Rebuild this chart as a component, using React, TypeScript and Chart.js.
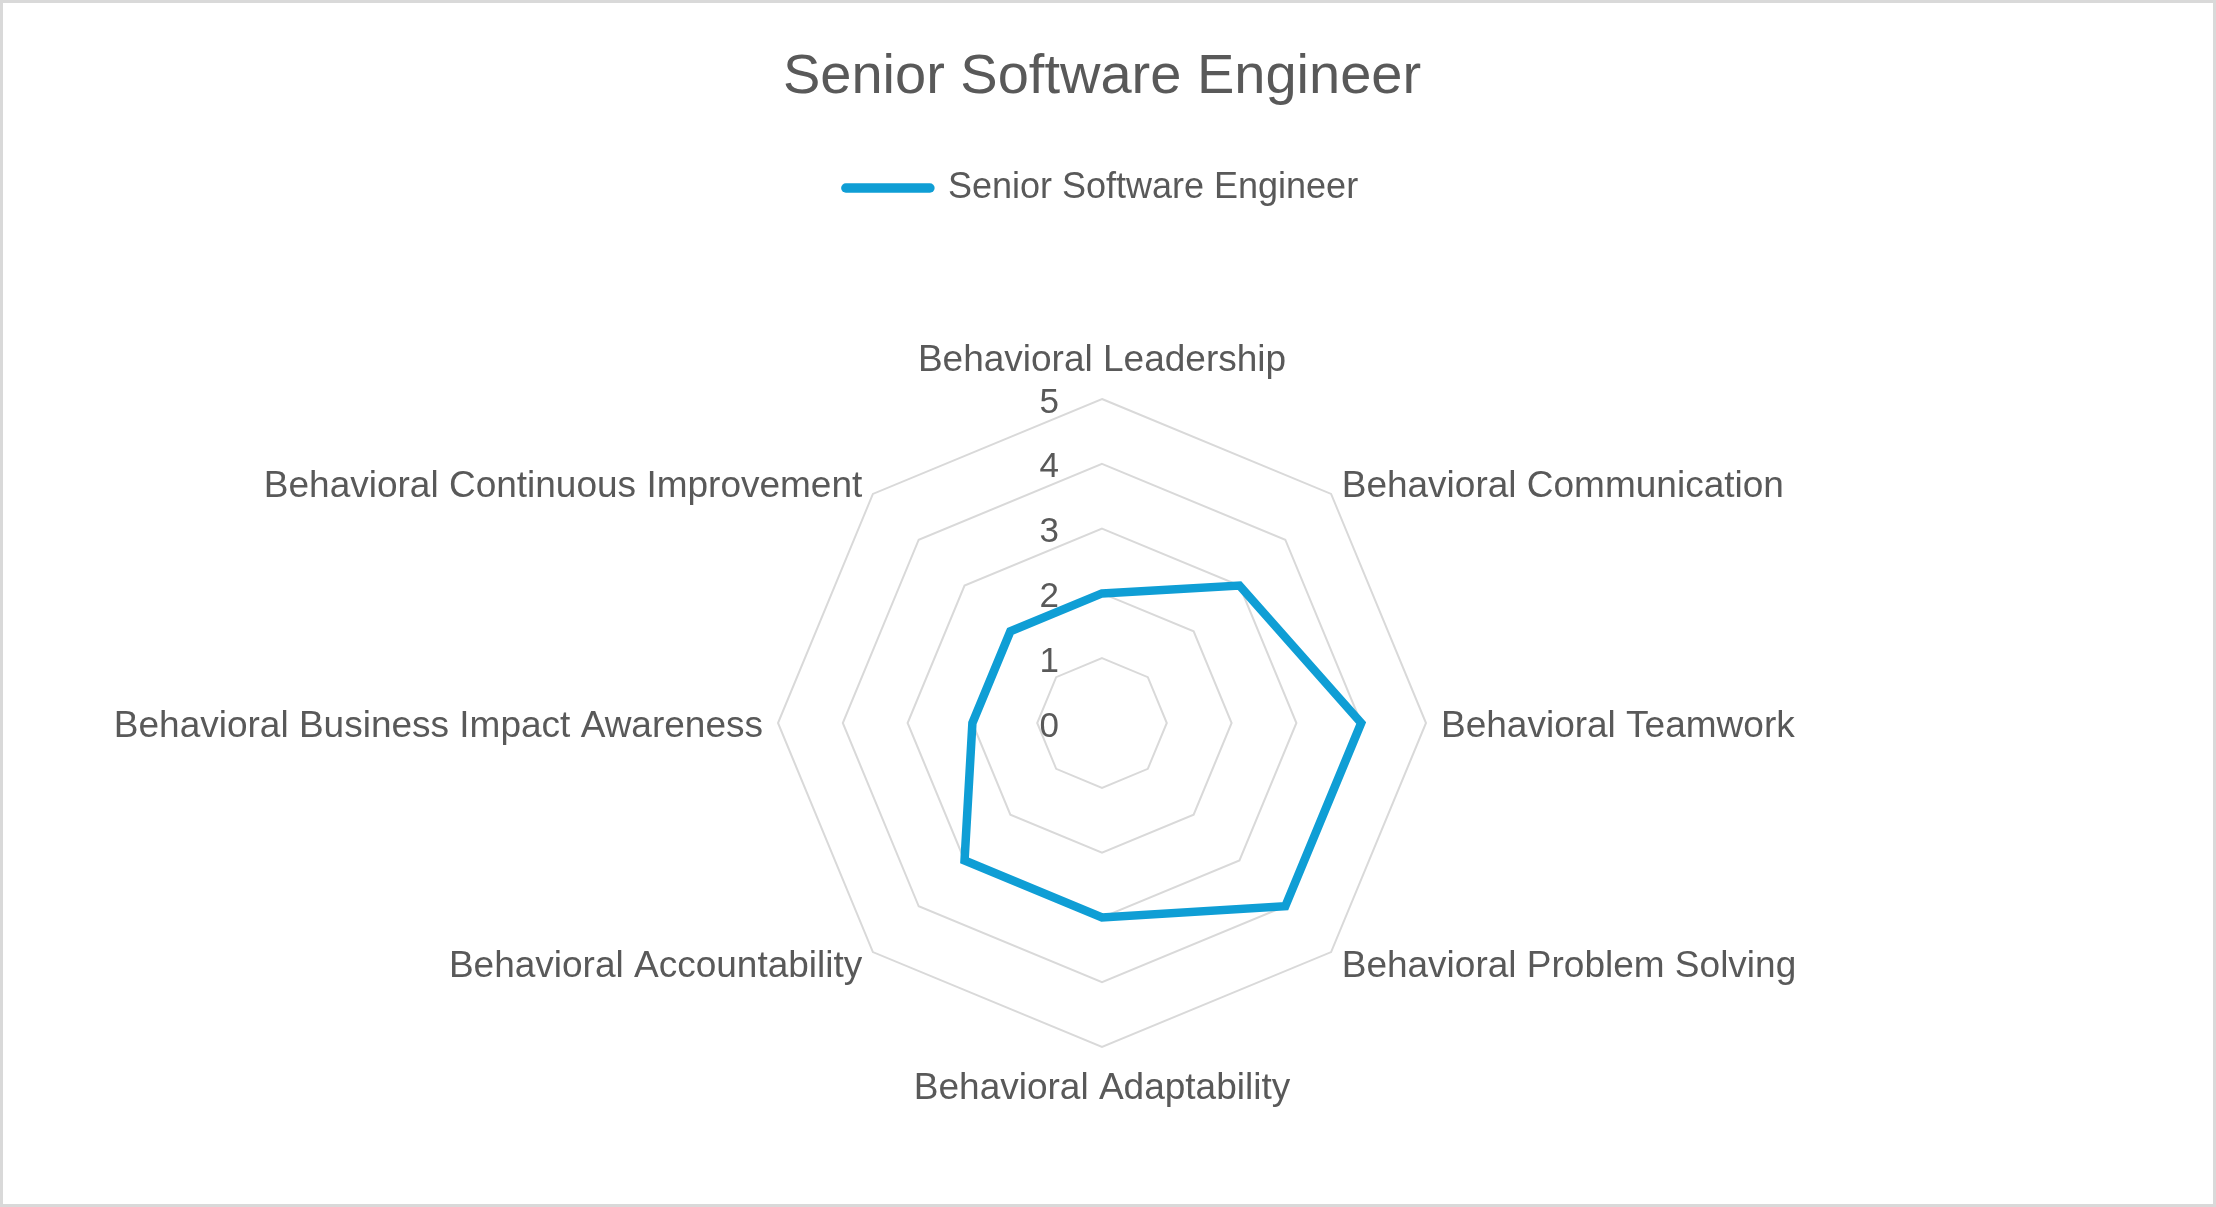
import React, { useEffect, useRef } from 'react';
import { Chart, registerables } from 'chart.js';

Chart.register(...registerables);

const CHART_TITLE = 'Senior Software Engineer';
const SERIES_NAME = 'Senior Software Engineer';
const CATEGORIES = [
  'Behavioral Leadership',
  'Behavioral Communication',
  'Behavioral Teamwork',
  'Behavioral Problem Solving',
  'Behavioral Adaptability',
  'Behavioral Accountability',
  'Behavioral Business Impact Awareness',
  'Behavioral Continuous Improvement',
];
const SCORES = [2, 3, 4, 4, 3, 3, 2, 2];
const TICK_VALUES = [0, 1, 2, 3, 4, 5];
const TICK_LABELS = ['0', '1', '2', '3', '4', '5'];

const FONT = '"Liberation Sans", Arial, sans-serif';
const TEXT_COLOR = '#595959';
const LINE_COLOR = '#0F9ED5';
const GRID_COLOR = '#d9d9d9';

const W = 2210;
const H = 1201;

const radarTextPlugin = {
  id: 'radarText',
  beforeDatasetsDraw(chart: any) {
    const scale = chart.scales.r;
    const ctx = chart.ctx;
    ctx.save();
    ctx.fillStyle = TEXT_COLOR;
    // radial tick labels, left of the vertical axis
    ctx.font = `35px ${FONT}`;
    ctx.textAlign = 'right';
    ctx.textBaseline = 'middle';
    TICK_VALUES.forEach((v, i) => {
      const d = scale.getDistanceFromCenterForValue(v);
      ctx.fillText(TICK_LABELS[i], scale.xCenter - 43, scale.yCenter - d + 4);
    });
    // category labels
    ctx.font = `37px ${FONT}`;
    const labels: string[] = chart.data.labels;
    labels.forEach((lab, i) => {
      const pos = scale.getPointPosition(i, scale.drawingArea + 15);
      const deg = Math.round((scale.getIndexAngle(i) * 180) / Math.PI) % 360;
      let align: CanvasTextAlign = 'center';
      let dy = 4;
      if (deg === 0) dy = -23;
      else if (deg === 180) dy = 27;
      else align = deg < 180 ? 'left' : 'right';
      ctx.textAlign = align;
      ctx.fillText(lab, pos.x, pos.y + dy);
    });
    ctx.restore();
  },
};

export default function App() {
  const canvasRef = useRef<HTMLCanvasElement | null>(null);

  useEffect(() => {
    const canvas = canvasRef.current;
    if (!canvas) return;
    const chart = new Chart(canvas, {
      type: 'radar',
      data: {
        labels: CATEGORIES,
        datasets: [
          {
            label: SERIES_NAME,
            data: SCORES,
            borderColor: LINE_COLOR,
            backgroundColor: LINE_COLOR,
            borderWidth: 8.5,
            fill: false,
            pointRadius: 0,
            pointHoverRadius: 0,
            pointHitRadius: 0,
            borderJoinStyle: 'miter',
            tension: 0,
          } as any,
        ],
      },
      options: {
        responsive: false,
        animation: false,
        layout: { padding: { left: 0, right: 12, top: 0, bottom: 157 } },
        scales: {
          r: {
            min: 0,
            max: 5,
            beginAtZero: true,
            ticks: { stepSize: 1, display: false },
            grid: { color: GRID_COLOR, lineWidth: 2, circular: false },
            angleLines: { display: false },
            pointLabels: { display: false },
          },
        },
        plugins: {
          tooltip: { enabled: false },
          title: {
            display: true,
            text: CHART_TITLE,
            color: TEXT_COLOR,
            font: { family: FONT, size: 56, weight: 'normal' },
            padding: { top: 41.4, bottom: 0 },
          },
          subtitle: {
            display: true,
            text: '',
            weight: 500,
            font: { family: FONT, size: 10 },
            padding: { top: 171, bottom: 0 },
          } as any,
          legend: {
            display: true,
            position: 'top',
            labels: {
              color: TEXT_COLOR,
              font: { family: FONT, size: 36 },
              usePointStyle: true,
              pointStyle: 'line',
              pointStyleWidth: 84,
              boxWidth: 84,
              padding: 58.4,
              generateLabels(ch: any) {
                const items = Chart.defaults.plugins.legend.labels.generateLabels(ch);
                return items.map((it: any) => ({ ...it, lineWidth: 9.5, lineCap: 'round', fillStyle: LINE_COLOR, strokeStyle: LINE_COLOR }));
              },
            },
          } as any,
        },
      },
      plugins: [radarTextPlugin],
    });
    return () => chart.destroy();
  }, []);

  return (
    <div
      style={{
        position: 'fixed',
        left: 0,
        top: 0,
        width: 2216,
        height: 1207,
        boxSizing: 'border-box',
        border: `3px solid ${GRID_COLOR}`,
        background: '#ffffff',
      }}
    >
      <canvas ref={canvasRef} width={W} height={H} style={{ display: 'block', width: W, height: H }} />
    </div>
  );
}
